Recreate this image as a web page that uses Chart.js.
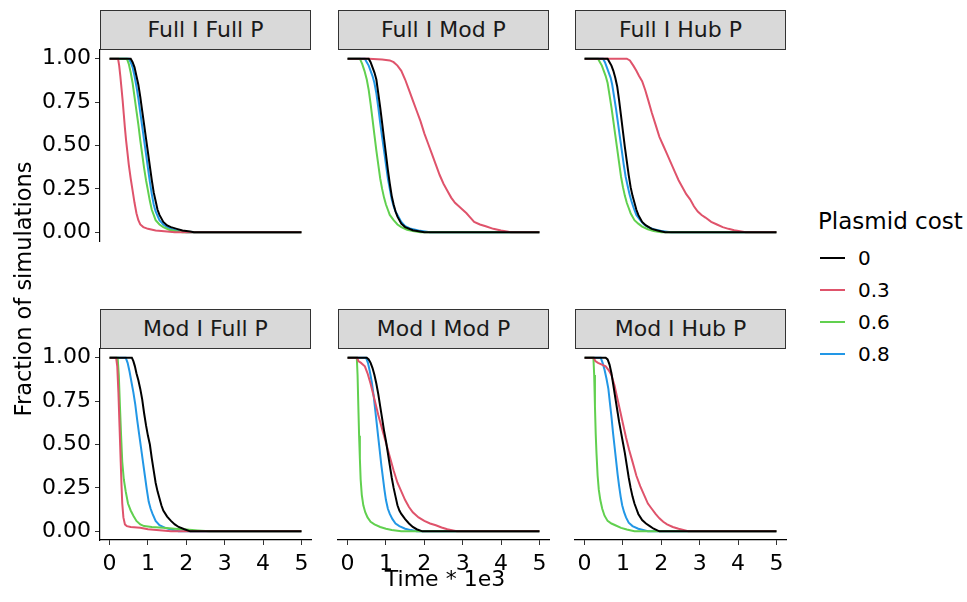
<!DOCTYPE html>
<html><head><meta charset="utf-8">
<script src="https://cdn.jsdelivr.net/npm/chart.js@4.4.1/dist/chart.umd.min.js"></script>
<style>
html,body{margin:0;padding:0;background:#fff;}
body{width:967px;height:602px;position:relative;overflow:hidden;font-family:'DejaVu Sans',sans-serif;color:#000;}
canvas{position:absolute;}
.strip{position:absolute;box-sizing:border-box;border:1px solid #333;background:#d9d9d9;display:flex;align-items:center;justify-content:center;font-size:22px;line-height:22px;color:#1a1a1a;white-space:nowrap;}
.txt{position:absolute;white-space:nowrap;}
.key{position:absolute;height:2px;width:25px;}
</style></head>
<body>
<script>
// ---------- data ----------
const panelTitles = ['Full I Full P','Full I Mod P','Full I Hub P','Mod I Full P','Mod I Mod P','Mod I Hub P'];
const costLabels = ['0','0.3','0.6','0.8'];
const xTicks = [0,1,2,3,4,5];
const yTicks = [0,0.25,0.5,0.75,1];
const xTitle = 'Time * 1e3';
const yTitle = 'Fraction of simulations';
const legendTitle = 'Plasmid cost';

// Full I Full P
const ff0 = [[0,1],[0.55,1],[0.6,0.98],[0.65,0.95],[0.7,0.9],[0.75,0.85],[0.8,0.78],[0.85,0.7],[0.9,0.62],[0.95,0.54],[1.0,0.46],[1.05,0.38],[1.1,0.3],[1.15,0.23],[1.2,0.18],[1.25,0.13],[1.3,0.1],[1.4,0.06],[1.5,0.04],[1.6,0.03],[1.75,0.02],[1.9,0.01],[2.1,0.005],[2.2,0],[5,0]];
const ff3 = [[0,1],[0.22,1],[0.25,0.96],[0.28,0.9],[0.31,0.83],[0.34,0.76],[0.37,0.68],[0.4,0.6],[0.43,0.53],[0.46,0.47],[0.5,0.39],[0.55,0.31],[0.6,0.24],[0.65,0.17],[0.7,0.11],[0.75,0.07],[0.8,0.045],[0.88,0.03],[1.0,0.02],[1.2,0.01],[1.5,0.005],[1.7,0],[5,0]];
const ff6 = [[0,1],[0.45,1],[0.5,0.97],[0.55,0.92],[0.6,0.86],[0.65,0.78],[0.7,0.7],[0.75,0.62],[0.8,0.53],[0.85,0.45],[0.9,0.37],[0.95,0.3],[1.0,0.24],[1.05,0.18],[1.1,0.13],[1.15,0.1],[1.2,0.07],[1.3,0.045],[1.4,0.03],[1.55,0.015],[1.7,0.008],[1.9,0],[5,0]];
const ff8 = [[0,1],[0.5,1],[0.55,0.98],[0.6,0.95],[0.65,0.9],[0.7,0.84],[0.75,0.77],[0.8,0.69],[0.85,0.61],[0.9,0.53],[0.95,0.45],[1.0,0.37],[1.05,0.29],[1.1,0.22],[1.15,0.16],[1.2,0.12],[1.3,0.07],[1.4,0.045],[1.5,0.03],[1.65,0.015],[1.8,0.008],[2.0,0],[5,0]];
// Full I Mod P
const fm0 = [[0,1],[0.55,1],[0.6,0.98],[0.65,0.95],[0.7,0.92],[0.75,0.88],[0.8,0.8],[0.85,0.72],[0.9,0.63],[0.95,0.54],[1.0,0.45],[1.05,0.36],[1.1,0.28],[1.15,0.21],[1.2,0.16],[1.25,0.12],[1.3,0.09],[1.4,0.05],[1.5,0.03],[1.7,0.012],[2.0,0],[5,0]];
const fm3 = [[0,1],[0.55,1],[0.9,0.995],[1.1,0.99],[1.2,0.98],[1.3,0.96],[1.4,0.93],[1.5,0.88],[1.6,0.82],[1.7,0.76],[1.8,0.7],[1.9,0.64],[2.0,0.57],[2.1,0.51],[2.2,0.45],[2.3,0.39],[2.4,0.33],[2.5,0.28],[2.6,0.24],[2.7,0.2],[2.8,0.17],[2.9,0.15],[3.0,0.13],[3.1,0.11],[3.2,0.085],[3.3,0.06],[3.45,0.045],[3.6,0.035],[3.8,0.02],[4.0,0.01],[4.15,0.005],[4.25,0],[5,0]];
const fm6 = [[0,1],[0.32,1],[0.38,0.97],[0.44,0.93],[0.5,0.88],[0.55,0.82],[0.6,0.74],[0.65,0.65],[0.7,0.56],[0.75,0.47],[0.8,0.39],[0.85,0.31],[0.9,0.25],[0.95,0.2],[1.0,0.16],[1.05,0.13],[1.1,0.1],[1.2,0.07],[1.3,0.045],[1.4,0.03],[1.55,0.015],[1.7,0.008],[1.9,0],[5,0]];
const fm8 = [[0,1],[0.45,1],[0.5,0.98],[0.55,0.96],[0.6,0.93],[0.65,0.9],[0.7,0.86],[0.75,0.8],[0.8,0.72],[0.85,0.63],[0.9,0.55],[0.95,0.47],[1.0,0.39],[1.05,0.31],[1.1,0.25],[1.15,0.19],[1.2,0.15],[1.25,0.12],[1.3,0.1],[1.4,0.06],[1.5,0.035],[1.65,0.02],[1.85,0.01],[2.15,0],[5,0]];
// Full I Hub P
const fh0 = [[0,1],[0.6,1],[0.65,0.98],[0.7,0.96],[0.75,0.93],[0.8,0.89],[0.85,0.84],[0.9,0.76],[0.95,0.67],[1.0,0.58],[1.05,0.49],[1.1,0.41],[1.15,0.33],[1.2,0.26],[1.25,0.21],[1.3,0.17],[1.35,0.13],[1.4,0.1],[1.5,0.06],[1.6,0.04],[1.75,0.02],[1.9,0.01],[2.1,0],[5,0]];
const fh3 = [[0,1],[1.1,1],[1.18,0.99],[1.27,0.96],[1.35,0.93],[1.42,0.9],[1.5,0.87],[1.58,0.82],[1.66,0.76],[1.75,0.69],[1.85,0.62],[1.95,0.55],[2.05,0.5],[2.15,0.45],[2.25,0.4],[2.35,0.35],[2.45,0.3],[2.55,0.26],[2.65,0.22],[2.75,0.19],[2.85,0.15],[2.95,0.12],[3.05,0.1],[3.15,0.085],[3.3,0.06],[3.45,0.045],[3.6,0.03],[3.75,0.02],[3.9,0.012],[4.05,0.006],[4.2,0],[5,0]];
const fh6 = [[0,1],[0.35,1],[0.4,0.98],[0.45,0.96],[0.5,0.93],[0.55,0.9],[0.6,0.86],[0.65,0.79],[0.7,0.72],[0.75,0.64],[0.8,0.56],[0.85,0.48],[0.9,0.4],[0.95,0.32],[1.0,0.26],[1.05,0.21],[1.1,0.17],[1.15,0.14],[1.2,0.11],[1.3,0.07],[1.4,0.05],[1.5,0.033],[1.65,0.018],[1.8,0.008],[2.0,0],[5,0]];
const fh8 = [[0,1],[0.48,1],[0.53,0.98],[0.58,0.95],[0.63,0.92],[0.68,0.89],[0.72,0.85],[0.77,0.78],[0.82,0.71],[0.87,0.63],[0.92,0.55],[0.97,0.47],[1.02,0.39],[1.07,0.32],[1.12,0.27],[1.17,0.22],[1.22,0.18],[1.28,0.14],[1.35,0.1],[1.45,0.07],[1.55,0.045],[1.65,0.03],[1.8,0.018],[2.0,0.008],[2.25,0],[5,0]];
// Mod I Full P
const mf0 = [[0,1],[0.58,1],[0.62,0.98],[0.66,0.95],[0.7,0.91],[0.75,0.87],[0.8,0.82],[0.85,0.76],[0.9,0.68],[0.95,0.61],[1.0,0.55],[1.05,0.5],[1.1,0.42],[1.15,0.35],[1.2,0.28],[1.25,0.23],[1.3,0.19],[1.35,0.15],[1.4,0.12],[1.5,0.085],[1.6,0.06],[1.7,0.04],[1.8,0.025],[1.95,0.012],[2.1,0],[5,0]];
const mf3 = [[0,1],[0.17,1],[0.2,0.95],[0.23,0.8],[0.26,0.6],[0.29,0.4],[0.31,0.27],[0.33,0.16],[0.36,0.08],[0.4,0.04],[0.45,0.03],[0.55,0.025],[0.8,0.02],[1.0,0.012],[1.3,0.006],[1.6,0],[5,0]];
const mf6 = [[0,1],[0.21,1],[0.24,0.9],[0.27,0.72],[0.3,0.55],[0.33,0.4],[0.37,0.3],[0.42,0.23],[0.48,0.16],[0.55,0.12],[0.62,0.09],[0.7,0.06],[0.8,0.04],[0.9,0.03],[1.1,0.025],[1.4,0.02],[1.7,0.015],[2.0,0.01],[2.3,0.005],[2.6,0],[5,0]];
const mf8 = [[0,1],[0.42,1],[0.47,0.97],[0.52,0.92],[0.57,0.86],[0.62,0.8],[0.67,0.73],[0.72,0.64],[0.77,0.56],[0.82,0.48],[0.87,0.4],[0.92,0.32],[0.97,0.24],[1.02,0.17],[1.07,0.13],[1.12,0.1],[1.2,0.06],[1.3,0.035],[1.45,0.02],[1.6,0.01],[1.8,0],[5,0]];
// Mod I Mod P
const mm0 = [[0,1],[0.5,1],[0.55,0.99],[0.6,0.97],[0.65,0.94],[0.7,0.9],[0.75,0.85],[0.8,0.79],[0.85,0.72],[0.9,0.65],[0.95,0.58],[1.0,0.52],[1.05,0.45],[1.1,0.38],[1.15,0.31],[1.2,0.25],[1.25,0.2],[1.3,0.15],[1.35,0.12],[1.4,0.1],[1.5,0.07],[1.6,0.045],[1.7,0.025],[1.8,0.012],[1.95,0],[5,0]];
const mm3 = [[0,1],[0.25,1],[0.28,0.98],[0.35,0.97],[0.45,0.95],[0.52,0.91],[0.6,0.85],[0.7,0.76],[0.8,0.67],[0.9,0.59],[1.0,0.51],[1.1,0.43],[1.2,0.35],[1.3,0.28],[1.4,0.23],[1.5,0.18],[1.6,0.14],[1.7,0.11],[1.85,0.08],[2.0,0.06],[2.15,0.045],[2.3,0.035],[2.45,0.022],[2.6,0.012],[2.75,0.005],[2.85,0],[5,0]];
const mm6 = [[0,1],[0.24,1],[0.26,0.9],[0.28,0.72],[0.3,0.55],[0.32,0.42],[0.34,0.3],[0.37,0.21],[0.41,0.15],[0.46,0.11],[0.52,0.08],[0.6,0.055],[0.7,0.04],[0.85,0.025],[1.0,0.015],[1.15,0.008],[1.4,0],[5,0]];
const mm8 = [[0,1],[0.48,1],[0.53,0.97],[0.58,0.92],[0.63,0.86],[0.68,0.78],[0.72,0.7],[0.76,0.62],[0.8,0.54],[0.84,0.46],[0.88,0.38],[0.92,0.31],[0.96,0.24],[1.0,0.18],[1.05,0.13],[1.1,0.1],[1.17,0.07],[1.25,0.045],[1.35,0.03],[1.5,0.015],[1.65,0.007],[1.8,0],[5,0]];
// Mod I Hub P
const mh0 = [[0,1],[0.55,1],[0.6,0.99],[0.65,0.96],[0.7,0.91],[0.75,0.84],[0.8,0.77],[0.85,0.7],[0.9,0.63],[0.95,0.57],[1.0,0.51],[1.05,0.45],[1.1,0.38],[1.15,0.31],[1.2,0.25],[1.25,0.2],[1.3,0.16],[1.35,0.13],[1.4,0.1],[1.5,0.065],[1.6,0.045],[1.7,0.03],[1.8,0.015],[1.95,0],[5,0]];
const mh3 = [[0,1],[0.24,1],[0.28,0.98],[0.35,0.97],[0.45,0.96],[0.55,0.95],[0.62,0.93],[0.7,0.9],[0.78,0.84],[0.85,0.77],[0.92,0.7],[1.0,0.62],[1.08,0.54],[1.16,0.47],[1.25,0.4],[1.35,0.32],[1.45,0.26],[1.55,0.21],[1.65,0.16],[1.75,0.13],[1.85,0.1],[1.95,0.075],[2.05,0.055],[2.15,0.04],[2.3,0.025],[2.45,0.015],[2.6,0.007],[2.7,0],[5,0]];
const mh6 = [[0,1],[0.23,1],[0.25,0.9],[0.27,0.72],[0.29,0.56],[0.31,0.45],[0.34,0.32],[0.37,0.24],[0.41,0.18],[0.46,0.13],[0.52,0.09],[0.6,0.06],[0.7,0.045],[0.8,0.035],[0.95,0.02],[1.1,0.01],[1.3,0],[5,0]];
const mh8 = [[0,1],[0.42,1],[0.47,0.97],[0.52,0.93],[0.57,0.88],[0.62,0.82],[0.66,0.74],[0.7,0.66],[0.74,0.57],[0.78,0.49],[0.82,0.41],[0.86,0.33],[0.9,0.26],[0.94,0.2],[0.98,0.15],[1.03,0.11],[1.08,0.08],[1.15,0.05],[1.25,0.03],[1.4,0.015],[1.55,0.006],[1.65,0],[5,0]];

const panelSeries = [[ff0,ff3,ff6,ff8],[fm0,fm3,fm6,fm8],[fh0,fh3,fh6,fh8],[mf0,mf3,mf6,mf8],[mm0,mm3,mm6,mm8],[mh0,mh3,mh6,mh8]];

// ---------- styles / layout ----------
const lineColors = ['#000000','#DF536B','#61D04F','#2297E6'];
const colLeft = [100,338,575], rowTop = [50,349], PW = 211, PH = 191;
const PADL = 95, PADT = 24, PADR = 8, PADB = 64;
const STRIP_H = 40;

Chart.defaults.font.family = "'DejaVu Sans', sans-serif";
Chart.defaults.font.size = 22;
Chart.defaults.color = '#000';

function addText(t, css){ const d=document.createElement('div'); d.className='txt'; d.textContent=t; Object.assign(d.style,css); document.body.appendChild(d); return d; }

panelTitles.forEach((title, i) => {
  const r = Math.floor(i/3), c = i%3;
  const s = document.createElement('div');
  s.className='strip'; s.textContent=title;
  Object.assign(s.style,{left:colLeft[c]+'px', top:(rowTop[r]-STRIP_H)+'px', width:PW+'px', height:STRIP_H+'px'});
  document.body.appendChild(s);

  const cv = document.createElement('canvas');
  const W = PADL+PW+PADR, H = PADT+PH+PADB;
  cv.width=W; cv.height=H;
  Object.assign(cv.style,{left:(colLeft[c]-PADL)+'px', top:(rowTop[r]-PADT)+'px', width:W+'px', height:H+'px'});
  document.body.appendChild(cv);
  const showY = c===0, showX = r===1;
  new Chart(cv, {
    type:'line',
    data:{datasets: panelSeries[i].map((ser,k)=>({
      label: costLabels[k],
      data: ser.map(p=>({x:p[0], y:p[1]})),
      borderColor: lineColors[k], borderWidth: 2, pointRadius: 0, tension: 0, fill:false
    }))},
    options:{
      responsive:false, animation:false, devicePixelRatio:1,
      layout:{padding:{left: showY?0:PADL, right:PADR, top:PADT, bottom: showX?0:PADB}},
      plugins:{legend:{display:false}, tooltip:{enabled:false}},
      scales:{
        x:{type:'linear', display:showX, min:-0.25, max:5.25,
           afterBuildTicks:a=>{a.ticks = xTicks.map(v=>({value:v}));},
           afterFit:a=>{ if(showX) a.height = PADB; },
           ticks:{padding:6, callback:v=>String(v), maxRotation:0, autoSkip:false},
           grid:{display:true, drawOnChartArea:false, drawTicks:true, tickLength:5, color:'#333333', lineWidth:1},
           border:{display:true, color:'#000', width:1.2}},
        y:{type:'linear', display:showY, min:-0.05, max:1.05,
           afterBuildTicks:a=>{a.ticks = yTicks.map(v=>({value:v}));},
           afterFit:a=>{ if(showY) a.width = PADL; },
           ticks:{padding:4, callback:v=>Number(v).toFixed(2), autoSkip:false},
           grid:{display:true, drawOnChartArea:false, drawTicks:true, tickLength:5, color:'#333333', lineWidth:1},
           border:{display:true, color:'#000', width:1.2}}
      }
    }
  });
});

// axis titles
addText(xTitle, {left:(445-70)+'px', width:'140px', textAlign:'center', top:'568px', fontSize:'22px', lineHeight:'22px'});
addText(yTitle, {left:(23-160)+'px', width:'320px', textAlign:'center', top:(289-11)+'px', fontSize:'22.5px', lineHeight:'22px', transform:'rotate(-90deg)', transformOrigin:'50% 50%'});

// legend
addText(legendTitle, {left:'818px', top:'210px', fontSize:'23px', lineHeight:'22px'});
const keyY = [258,290,322,354];
costLabels.forEach((lab,k)=>{
  const d=document.createElement('div'); d.className='key';
  Object.assign(d.style,{left:'820px', top:(keyY[k]-1)+'px', background:lineColors[k]});
  document.body.appendChild(d);
  addText(lab, {left:'858px', top:(keyY[k]-10)+'px', fontSize:'20px', lineHeight:'20px'});
});
</script>
</body></html>
